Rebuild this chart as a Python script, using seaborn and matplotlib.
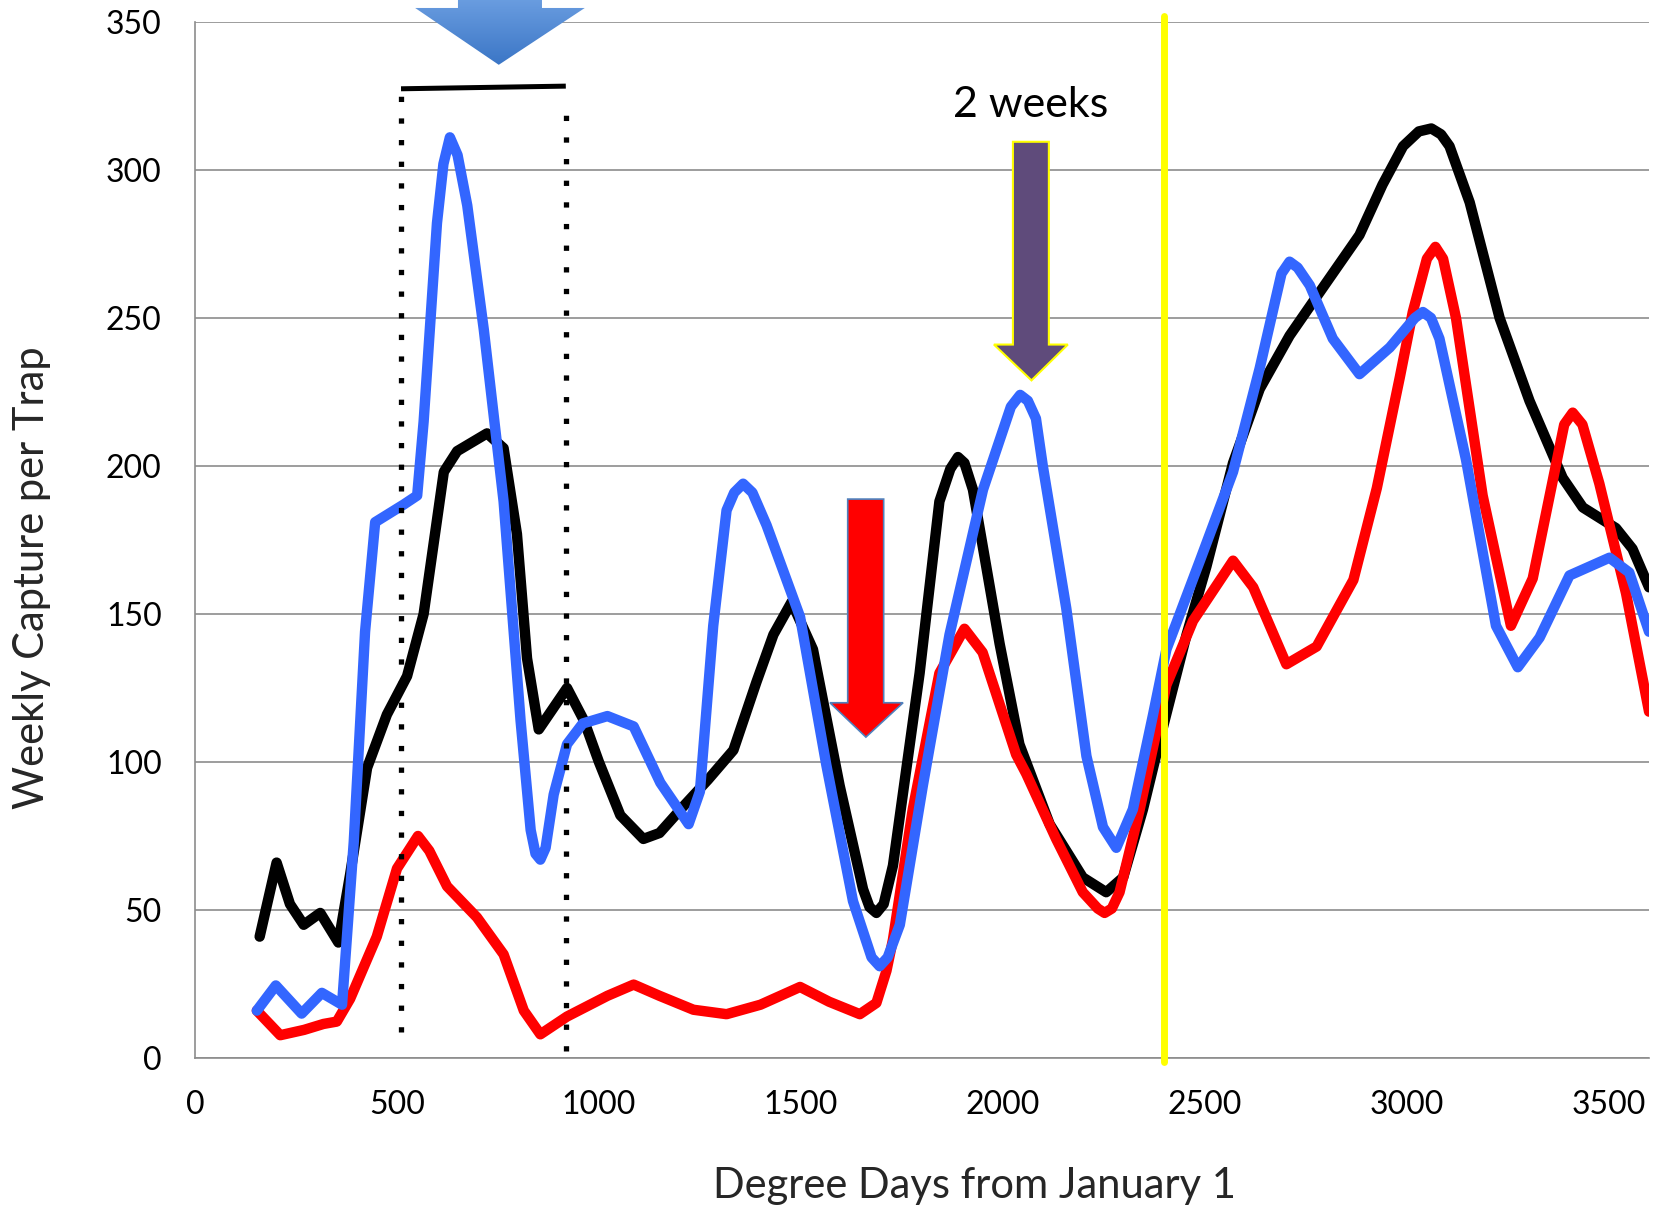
import numpy as np
import pandas as pd
import seaborn as sns
import matplotlib.pyplot as plt
from matplotlib.patches import Polygon
from matplotlib.colors import LinearSegmentedColormap

sns.set_style("white")
plt.rcParams['font.family'] = ['Lato', 'DejaVu Sans']

# weekly capture per trap vs degree days
black_dd = [160, 202, 235, 269, 310, 355, 384, 426, 475, 525, 566, 616, 649, 723, 764,
            797, 822, 851, 921, 963, 1000, 1053, 1110, 1150, 1209, 1270, 1333, 1390, 1432,
            1477, 1530, 1596, 1654, 1670, 1687, 1705, 1728, 1794, 1843, 1870, 1889, 1905,
            1926, 1992, 2041, 2116, 2198, 2256, 2298, 2347, 2397, 2455, 2504, 2570, 2636,
            2710, 2776, 2883, 2940, 2991, 3030, 3061, 3085, 3106, 3156, 3230, 3304, 3386,
            3436, 3518, 3559, 3600]
black_cap = [41, 66, 52, 45, 49, 39, 62, 98, 116, 129, 150, 198, 205, 211, 206,
             177, 135, 111, 125, 114, 100, 82, 74, 76, 85, 94, 104, 127, 143,
             154, 138, 92, 57, 51, 49, 52, 65, 130, 188, 199, 203, 201,
             192, 140, 106, 79, 61, 56, 61, 84, 112, 143, 166, 201, 226,
             244, 257, 278, 295, 308, 313, 314, 312, 308, 289, 250, 222, 196,
             186, 179, 172, 159]

blue_dd = [153, 200, 264, 314, 364, 393, 421, 446, 517, 550, 566, 599, 615, 631, 650,
           674, 715, 764, 806, 831, 843, 855, 868, 888, 921, 960, 1021, 1086, 1152, 1222,
           1250, 1283, 1316, 1335, 1357, 1380, 1415, 1498, 1563, 1629, 1675, 1695, 1715,
           1745, 1802, 1868, 1951, 2020, 2043, 2062, 2082, 2099, 2157, 2207, 2248, 2281,
           2322, 2372, 2405, 2488, 2570, 2636, 2690, 2710, 2730, 2760, 2817, 2883, 2958,
           3020, 3040, 3060, 3081, 3147, 3221, 3275, 3329, 3403, 3502, 3551, 3600]
blue_cap = [16, 24.5, 15, 22, 18, 73, 144, 181, 187, 190, 215, 282, 302, 311, 305,
            288, 246, 188, 114, 77, 69, 67, 71, 89, 106, 113, 115.5, 112, 93, 79,
            90, 146, 185, 191, 194, 191, 180, 149, 99, 53, 34, 31, 34,
            45, 92, 143, 192, 220, 224, 222, 216, 200, 152, 102, 78, 71,
            84, 116, 138, 168, 198, 233, 265, 269, 267, 261, 243, 231, 240,
            250, 252, 250, 243, 202, 146, 132, 142, 163, 169, 164, 144]

red_dd = [153, 211, 270, 318, 351, 384, 450, 500, 552, 580, 624, 698, 764, 814, 855,
          921, 1021, 1086, 1150, 1234, 1316, 1400, 1498, 1570, 1646, 1687, 1712, 1728,
          1777, 1843, 1905, 1950, 2033, 2058, 2132, 2198, 2235, 2252, 2270, 2289, 2339,
          2405, 2471, 2570, 2620, 2702, 2777, 2868, 2926, 2983, 3015, 3050, 3071, 3090,
          3122, 3188, 3258, 3312, 3390, 3411, 3435, 3477, 3543, 3600]
red_cap = [16, 7.7, 9.5, 11.5, 12.3, 20, 41, 64, 75, 70, 58, 47.5, 35, 16, 8,
           14, 21, 24.8, 21, 16.3, 14.8, 18, 24, 19, 14.8, 18.6, 29.5, 40,
           84, 130, 145, 137, 102.5, 96, 74, 56, 50.5, 49, 50.5, 56, 84,
           126, 147.7, 168, 159, 133, 139, 161.5, 192.5, 230, 252, 270, 274, 270,
           250, 190, 146, 162, 214, 218, 214, 194, 157, 117]

trap_colors = {'black': '#000000', 'red': '#FF0000', 'blue': '#3366FF'}

df = pd.concat([
    pd.DataFrame({'dd': black_dd, 'capture': black_cap, 'trap': 'black'}),
    pd.DataFrame({'dd': red_dd, 'capture': red_cap, 'trap': 'red'}),
    pd.DataFrame({'dd': blue_dd, 'capture': blue_cap, 'trap': 'blue'}),
], ignore_index=True)

fig = plt.figure(figsize=(16.57, 12.09), dpi=100)
ax = fig.add_axes([0.1177, 0.1249, 0.8775, 0.857])

sns.lineplot(data=df, x='dd', y='capture', hue='trap', palette=trap_colors,
             estimator=None, sort=False, legend=False, ax=ax)
# make the data lines heavy like the original
for ln in ax.lines:
    ln.set_linewidth(7.5)
    ln.set_solid_capstyle('round')
    ln.set_solid_joinstyle('round')

# yellow marker line at 2400 DD
ax.plot([2400, 2400], [-1.5, 352], color='#FFFF00', lw=5, clip_on=False, zorder=5)

# bracket with dotted drops
ax.plot([510, 918], [327.4, 328.3], color='black', lw=3.6, solid_capstyle='butt', clip_on=False)
ax.plot([510, 510], [8.8, 326], color='black', lw=3.8, ls=(0, (1, 3.1)), clip_on=False)
ax.plot([918, 918], [2.5, 321], color='black', lw=3.8, ls=(0, (1, 3.1)), clip_on=False)

# red down arrow
red_arrow = [(1616, 188.8), (1705, 188.8), (1705, 120), (1753, 120), (1661, 108.4),
             (1572, 120), (1616, 120)]
ax.add_patch(Polygon(red_arrow, closed=True, facecolor='#FF0000', edgecolor='#4F81BD',
                     lw=1.2, zorder=6))

# purple down arrow ("2 weeks")
purple_arrow = [(2025, 309.5), (2114, 309.5), (2114, 241), (2161, 241), (2071, 228.9),
                (1978, 241), (2025, 241)]
ax.add_patch(Polygon(purple_arrow, closed=True, facecolor='#5F4B7B', edgecolor='#FFFF00',
                     lw=1.5, zorder=6))
ax.text(2068, 322, '2 weeks', fontsize=31, color='black', ha='center', va='center', zorder=7)

# big blue gradient arrow at the top
blue_arrow = [(651, 380), (859, 380), (859, 354.7), (965, 354.7), (752, 335.5),
              (545, 354.7), (651, 354.7)]
arrow_patch = Polygon(blue_arrow, closed=True, facecolor='none', edgecolor='none',
                      clip_on=False, transform=ax.transData)
ax.add_patch(arrow_patch)
grad_cmap = LinearSegmentedColormap.from_list('arr', ['#3B76C6', '#6A9DE0', '#92B9EC'])
grad = np.linspace(0, 1, 256).reshape(-1, 1)
im = ax.imshow(grad, extent=[545, 965, 335.5, 380], origin='lower', aspect='auto',
               cmap=grad_cmap, interpolation='bilinear', zorder=6)
im.set_clip_box(fig.bbox)
im.set_clip_path(arrow_patch)

ax.set_xlim(0, 3600)
ax.set_ylim(0, 350)
ax.set_aspect('auto')
ax.set_xticks(np.arange(0, 3501, 500))
ax.set_yticks(np.arange(0, 351, 50))

ax.yaxis.grid(True, color='#8C8C8C', lw=1.2)
ax.xaxis.grid(False)
ax.set_axisbelow(True)
for side in ['top', 'right']:
    ax.spines[side].set_visible(False)
for side in ['left', 'bottom']:
    ax.spines[side].set_color('#8C8C8C')
    ax.spines[side].set_linewidth(1.2)
ax.tick_params(axis='both', length=8, width=1.2, color='#8C8C8C', labelsize=23,
               labelcolor='black', direction='out')
ax.tick_params(axis='y', pad=16)
ax.tick_params(axis='x', pad=15)

ax.set_xlabel('Degree Days from January 1', fontsize=30)
ax.set_ylabel('Weekly Capture per Trap', fontsize=30)
ax.xaxis.set_label_coords(0.536, -0.1236)
ax.xaxis.label.set_va('center')
ax.yaxis.set_label_coords(-0.112, 0.464)
ax.yaxis.label.set_va('center')

plt.savefig('out.png', dpi=100)
